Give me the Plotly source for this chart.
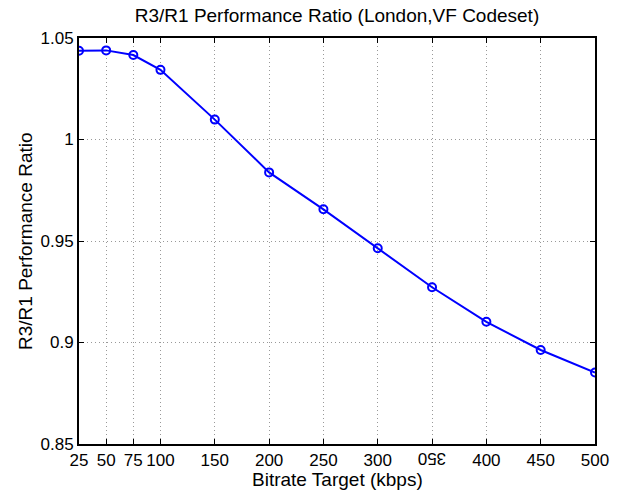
import plotly.graph_objects as go

bitrate = [25, 50, 75, 100, 150, 200, 250, 300, 350, 400, 450, 500]
ratio = [1.0437, 1.0439, 1.0416, 1.0343, 1.0098, 0.9838, 0.9656, 0.9464, 0.9272, 0.9102, 0.8963, 0.8852]
x_ticks = [25, 50, 75, 100, 150, 200, 250, 300, 350, 400, 450, 500]
x_ticklabels = ["25", "50", "75", "100", "150", "200", "250", "300", "", "400", "450", "500"]
y_ticks = [0.85, 0.9, 0.95, 1.0, 1.05]
y_ticklabels = ["0.85", "0.9", "0.95", "1", "1.05"]
title = "R3/R1 Performance Ratio (London,VF Codeset)"
xlabel = "Bitrate Target (kbps)"
ylabel = "R3/R1 Performance Ratio"

FONT = "Liberation Sans, Arial, Helvetica, sans-serif"
TICK_SIZE = 17
LABEL_SIZE = 19
TITLE_SIZE = 19

W, H = 620, 490
ML, MR, MT, MB = 79, 25, 38, 46
PW, PH = W - ML - MR, H - MT - MB

fig = go.Figure()
fig.add_trace(go.Scatter(
    x=bitrate, y=ratio, mode="lines+markers",
    line=dict(color="#0000ff", width=2),
    marker=dict(symbol="circle-open", size=8, color="#0000ff", line=dict(width=2)),
    showlegend=False,
))

axis_common = dict(
    showline=True, linecolor="black", linewidth=2, mirror="ticks",
    ticks="inside", ticklen=5, tickcolor="black",
    showgrid=True, gridcolor="#999999", griddash="1px,3px", gridwidth=1,
    zeroline=False, tickfont=dict(family=FONT, size=TICK_SIZE, color="black"),
    automargin=False,
)

fig.update_xaxes(range=[25, 500], tickmode="array", tickvals=x_ticks, ticktext=x_ticklabels, **axis_common)
fig.update_yaxes(range=[0.85, 1.05], tickmode="array", tickvals=y_ticks, ticktext=y_ticklabels, **axis_common)

# upside-down "350" tick label as in the reference
fig.add_annotation(
    x=350, y=0, xref="x", yref="paper", yanchor="top", yshift=-3, text="350", textangle=180,
    showarrow=False, font=dict(family=FONT, size=TICK_SIZE, color="black"),
)
# axis labels (positions given in page pixels, converted to plot-area fractions)
fig.add_annotation(
    x=(337 - ML) / PW, y=(H - MB - 479) / PH, xref="paper", yref="paper",
    xanchor="center", yanchor="middle", text=xlabel, showarrow=False,
    font=dict(family=FONT, size=LABEL_SIZE, color="black"),
)
fig.add_annotation(
    x=(25 - ML) / PW, y=0.5, xref="paper", yref="paper",
    xanchor="center", yanchor="middle", text=ylabel, textangle=-90, showarrow=False,
    font=dict(family=FONT, size=LABEL_SIZE, color="black"),
)

fig.update_layout(
    width=W, height=H,
    margin=dict(l=ML, r=MR, t=MT, b=MB),
    paper_bgcolor="white", plot_bgcolor="white",
    title=dict(text=title, x=0.5, xref="paper", xanchor="center", y=1 - 15 / H, yanchor="middle",
               font=dict(family=FONT, size=TITLE_SIZE, color="black")),
)

fig.write_html("out.html")
